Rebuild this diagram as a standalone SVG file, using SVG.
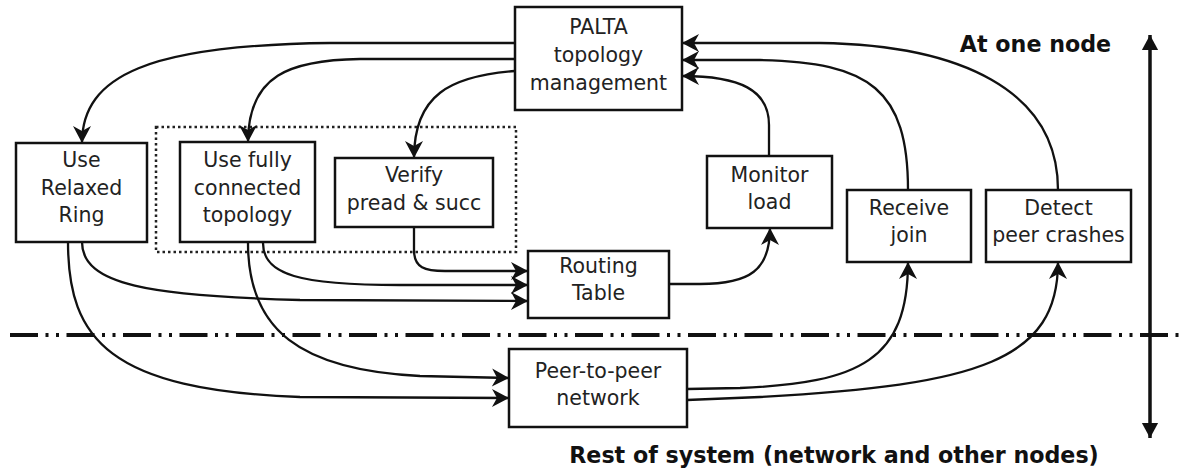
<svg xmlns="http://www.w3.org/2000/svg" width="1183" height="470" viewBox="0 0 1183 470">
<style>
  .box { fill: #ffffff; stroke: #111; stroke-width: 2.5; }
  .lbl { font-family: "DejaVu Sans", "Liberation Sans", sans-serif; font-size: 20.5px; fill: #222; text-anchor: middle; }
  .hdr { font-family: "DejaVu Sans", "Liberation Sans", sans-serif; font-size: 22.2px; font-weight: bold; fill: #111; text-anchor: middle; }
  .conn { fill: none; stroke: #111; stroke-width: 2.3; }
</style>
<defs>
  <marker id="ah" markerUnits="userSpaceOnUse" markerWidth="22" markerHeight="22" viewBox="-19 -11 21 22" refX="0" refY="0" orient="auto">
    <path d="M0,0 L-17,-9 L-12,0 L-17,9 Z" fill="#111"/>
  </marker>
  <marker id="tri" markerUnits="userSpaceOnUse" markerWidth="20" markerHeight="20" viewBox="-14 -8 16 16" refX="0" refY="0" orient="auto-start-reverse">
    <path d="M0,0 L-12,-6.5 L-12,6.5 Z" fill="#111"/>
  </marker>
</defs>

<!-- separator -->
<g id="separator">
  <line x1="10" y1="335" x2="1183" y2="335" stroke="#111" stroke-width="4" stroke-dasharray="28,7.5,3,7.5,3,7.5"/>
  <line x1="1150" y1="35" x2="1150" y2="438" stroke="#111" stroke-width="3.5" marker-start="url(#tri)" marker-end="url(#tri)"/>
  <text class="hdr" x="1035.5" y="52">At one node</text>
  <text class="hdr" x="834" y="463">Rest of system (network and other nodes)</text>
</g>

<!-- dotted group -->
<rect id="group-full" x="156" y="127" width="360" height="125" fill="none" stroke="#222" stroke-width="2.5" stroke-dasharray="2.5,3"/>

<g id="connectors">
  <path class="conn" marker-end="url(#ah)" d="M515,43 L330,43 C150,45 82,75 82,143"/>
  <path class="conn" marker-end="url(#ah)" d="M515,59 L360,59 C290,60 248,75 248,142"/>
  <path class="conn" marker-end="url(#ah)" d="M515,71 C450,76 414,95 414,158"/>
  <path class="conn" marker-end="url(#ah)" d="M769,156 L769,125 C769,90 740,76 682,76"/>
  <path class="conn" marker-end="url(#ah)" d="M908,190 C908,90 870,62 760,60 L682,60"/>
  <path class="conn" marker-end="url(#ah)" d="M1058,190 C1058,90 960,45 820,43 L682,43"/>
  <path class="conn" marker-end="url(#ah)" d="M414,227 L414,250 C414,268 425,271 445,271 L528,271"/>
  <path class="conn" marker-end="url(#ah)" d="M263,243 C263,275 300,285 400,285 L528,285"/>
  <path class="conn" marker-end="url(#ah)" d="M82,242 C82,285 150,296 300,300 L528,301"/>
  <path class="conn" marker-end="url(#ah)" d="M248,243 C248,330 300,370 420,376 L509,378"/>
  <path class="conn" marker-end="url(#ah)" d="M68,242 C68,340 110,390 300,397 L509,398"/>
  <path class="conn" marker-end="url(#ah)" d="M669,284 L700,284 C750,284 770,270 770,228"/>
  <path class="conn" marker-end="url(#ah)" d="M687,389 L740,388 C860,383 908,360 908,262"/>
  <path class="conn" marker-end="url(#ah)" d="M687,400 L760,397 C980,385 1058,360 1058,262"/>
</g>

<g id="palta">
  <rect class="box" x="515" y="7" width="167" height="103"/>
  <text class="lbl" x="598.5" y="34">PALTA</text>
  <text class="lbl" x="598.5" y="62">topology</text>
  <text class="lbl" x="598.5" y="90">management</text>
</g>
<g id="relaxed-ring">
  <rect class="box" x="16" y="143" width="131" height="99"/>
  <text class="lbl" x="81.5" y="167">Use</text>
  <text class="lbl" x="81.5" y="195">Relaxed</text>
  <text class="lbl" x="81.5" y="222">Ring</text>
</g>
<g id="fully-connected">
  <rect class="box" x="180" y="142" width="135" height="100"/>
  <text class="lbl" x="247.5" y="167">Use fully</text>
  <text class="lbl" x="247.5" y="195">connected</text>
  <text class="lbl" x="247.5" y="222">topology</text>
</g>
<g id="verify">
  <rect class="box" x="335" y="158" width="158" height="69"/>
  <text class="lbl" x="414" y="182">Verify</text>
  <text class="lbl" x="414" y="210">pread &amp; succ</text>
</g>
<g id="monitor-load">
  <rect class="box" x="707" y="156" width="125" height="72"/>
  <text class="lbl" x="769.5" y="182">Monitor</text>
  <text class="lbl" x="769.5" y="209">load</text>
</g>
<g id="receive-join">
  <rect class="box" x="847" y="190" width="124" height="72"/>
  <text class="lbl" x="909" y="215">Receive</text>
  <text class="lbl" x="909" y="242">join</text>
</g>
<g id="detect-crashes">
  <rect class="box" x="986" y="190" width="145" height="72"/>
  <text class="lbl" x="1058.5" y="215">Detect</text>
  <text class="lbl" x="1058.5" y="242">peer crashes</text>
</g>
<g id="routing-table">
  <rect class="box" x="528" y="251" width="141" height="67"/>
  <text class="lbl" x="598.5" y="273">Routing</text>
  <text class="lbl" x="598.5" y="300">Table</text>
</g>
<g id="p2p-network">
  <rect class="box" x="509" y="349" width="178" height="78"/>
  <text class="lbl" x="598" y="378">Peer-to-peer</text>
  <text class="lbl" x="598" y="405">network</text>
</g>
</svg>
